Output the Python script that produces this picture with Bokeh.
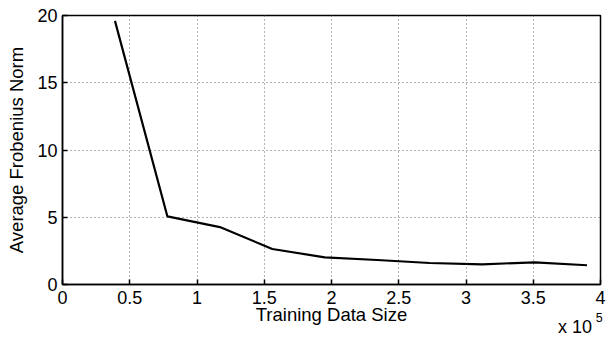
from bokeh.plotting import figure
from bokeh.models import Range1d, FixedTicker, LinearAxis
from bokeh.embed import file_html
from bokeh.resources import INLINE

# Training data size in units of 1e5
train_size = [0.39, 0.78, 1.17, 1.56, 1.95, 2.34, 2.73, 3.12, 3.51, 3.90]
avg_frob_norm = [19.6, 5.06, 4.27, 2.64, 2.02, 1.82, 1.60, 1.50, 1.65, 1.43]

x_ticks = [0, 0.5, 1, 1.5, 2, 2.5, 3, 3.5, 4]
x_tick_labels = ["0", "0.5", "1", "1.5", "2", "2.5", "3", "3.5", "4"]
y_ticks = [0, 5, 10, 15, 20]
y_tick_labels = ["0", "5", "10", "15", "20"]

# axis multiplier text "x 10^5" (anchored along the x axis)
mult_pos = 3.81
mult_text = "x 10"
exp_pos = 3.99
exp_text = "5"

FONT = "Liberation Sans"

p = figure(width=611, height=339, output_backend="svg", toolbar_location=None,
           x_range=Range1d(0, 4), y_range=Range1d(0, 20),
           min_border_left=62, min_border_right=11, min_border_top=15, min_border_bottom=54)

p.line(train_size, avg_frob_norm, line_color="black", line_width=2.2)

p.outline_line_color = "black"
p.outline_line_width = 1.5
p.outline_line_alpha = 1.0

for ax in (p.xaxis[0], p.yaxis[0]):
    ax.axis_line_color = "black"
    ax.axis_line_width = 1.5
    ax.major_tick_in = 5
    ax.major_tick_out = 0
    ax.minor_tick_line_color = None
    ax.major_tick_line_color = "black"
    ax.major_tick_line_width = 1.5
    ax.major_label_text_font = FONT
    ax.major_label_text_font_size = "18px"
    ax.major_label_text_color = "black"
    ax.axis_label_text_font = FONT
    ax.axis_label_text_font_size = "18.5px"
    ax.axis_label_text_font_style = "normal"
    ax.axis_label_text_color = "black"

p.xaxis.ticker = FixedTicker(ticks=x_ticks)
p.xaxis.major_label_overrides = dict(zip(x_ticks, x_tick_labels))
p.yaxis.ticker = FixedTicker(ticks=y_ticks)
p.yaxis.major_label_overrides = dict(zip(y_ticks, y_tick_labels))

p.xaxis.axis_label = "Training Data Size"
p.yaxis.axis_label = "Average Frobenius Norm"
p.xaxis.major_label_standoff = 6
p.xaxis.axis_label_standoff = -3
p.yaxis.major_label_standoff = 5
p.yaxis.axis_label_standoff = 7

for g in (p.xgrid[0], p.ygrid[0]):
    g.grid_line_color = "#666666"
    g.grid_line_dash = "1 3"
    g.grid_line_width = 1


def text_axis(pos, txt, size, standoff):
    a = LinearAxis(ticker=FixedTicker(ticks=[pos]),
                   major_label_overrides={pos: txt})
    a.axis_line_color = None
    a.major_tick_line_color = None
    a.minor_tick_line_color = None
    a.major_tick_in = 0
    a.major_tick_out = 0
    a.major_label_standoff = standoff
    a.major_label_text_font = FONT
    a.major_label_text_font_size = size
    a.major_label_text_color = "black"
    return a


p.add_layout(text_axis(mult_pos, mult_text, "18px", -11), "below")
p.add_layout(text_axis(exp_pos, exp_text, "12.5px", -27), "below")

open("out.html", "w").write(file_html(p, INLINE))
